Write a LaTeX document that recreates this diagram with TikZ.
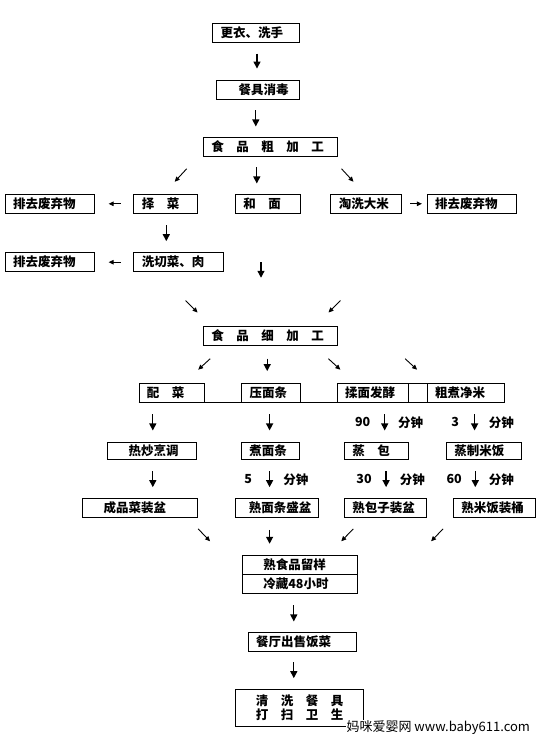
\documentclass[tikz,border=0pt]{standalone}
\usepackage{fontspec}
\newfontfamily\hei{Noto Sans CJK SC}
\usetikzlibrary{arrows.meta}

\tikzset{
  box/.style={draw, line width=0.9pt, inner xsep=8pt, inner ysep=0pt,
    minimum height=19pt, align=left, font=\hei\bfseries\fontsize{12.5}{14}\selectfont},
  lbl/.style={inner sep=0pt, font=\hei\bfseries\fontsize{12.5}{14}\selectfont},
  varr/.style={line width=1.3pt, -{Triangle[length=7pt,width=7pt]}},
  darr/.style={line width=0.9pt, -{Triangle[length=5pt,width=4.5pt]}},
  harr/.style={line width=0.9pt, -{Triangle[length=5pt,width=4.5pt]}},
  wm/.style={fill=white, inner sep=1pt, font=\hei\fontsize{13}{15}\selectfont}
}

\begin{document}
\begin{tikzpicture}[x=1pt,y=-1pt]
\useasboundingbox (0,0) rectangle (542,745);

% coarse processing
\node[box, text width=70.6pt] (gy) at (256,33) {更衣、洗手};
\node[box, text width=67pt, minimum height=18.6pt] (cj) at (258.2,90) {\hspace*{14pt}餐具消毒};
\node[box, text width=117.7pt] (cu) at (270.2,146.8) {食\quad 品\quad 粗\quad 加\quad 工};
\node[box, text width=73.2pt] (fq1) at (49.8,203.8) {排去废弃物};
\node[box, text width=47.2pt] (zc) at (165.4,203.8) {择\quad 菜};
\node[box, text width=49.3pt] (hm) at (268,203.8) {和\quad 面};
\node[box, text width=54.5pt] (tx) at (366,203.8) {淘洗大米};
\node[box, text width=73.2pt] (fq2) at (471.8,203.8) {排去废弃物};
\node[box, text width=73.2pt] (fq3) at (49.8,262.2) {排去废弃物};
\node[box, text width=73.2pt] (xq) at (178.4,262.2) {洗切菜、肉};

% fine processing
\node[box, text width=117.7pt, minimum height=19.7pt] (xi) at (270.2,335.8) {食\quad 品\quad 细\quad 加\quad 工};
\node[box, text width=49.3pt] (pc) at (171.6,392.8) {配\quad 菜};
\node[box, text width=43.1pt] (ym) at (271.2,392.8) {压面条};
\node[box, text width=55.6pt] (rm) at (372.8,392.8) {揉面发酵};
\node[box, text width=2.6pt] (kb) at (417.9,392.8) {};
\node[box, text width=60.8pt] (zm) at (465.6,392.8) {粗煮净米};
\draw[line width=0.9pt] (pc.south west) -- (zm.south east);

\node[box, text width=72.8pt, minimum height=17pt] (rc) at (151.9,450.8) {\hspace*{13pt}热炒烹调};
\node[box, text width=42pt, minimum height=17pt] (zt) at (270.3,450.8) {煮面条};
\node[box, text width=47.9pt, minimum height=17pt] (zb) at (376.3,450.8) {蒸\quad 包};
\node[box, text width=59pt, minimum height=17pt] (zf) at (483.8,450.8) {蒸制米饭};

\node[box, text width=99.1pt] (cp) at (139.8,507.8) {\hspace*{13.4pt}成品菜装盆};
\node[box, text width=67pt] (sm) at (276.9,507.8) {\hspace*{5.5pt}熟面条盛盆};
\node[box, text width=65.9pt] (sb) at (385.2,507.8) {熟包子装盆};
\node[box, text width=66.3pt] (sf) at (494.6,507.8) {熟米饭装桶};

% cooked food
\node[box, text width=98.7pt, minimum height=18.6pt] (ly1) at (300,565) {\hspace*{12.7pt}熟食品留样};
\node[box, text width=98.7pt] (ly2) at (300,583.8) {\hspace*{12.7pt}冷藏48小时};
\node[box, text width=92.2pt, minimum height=19.4pt] (cs) at (302.3,642) {餐厅出售饭菜};
\node[box, text width=111.9pt, minimum height=37.7pt] (qx) at (299.3,707.8)
  {\hspace*{12.6pt}清\quad 洗\quad 餐\quad 具\\ \hspace*{12.6pt}打\quad 扫\quad 卫\quad 生};

% arrows
\draw[varr] ([shift={(1,10.6)}]gy.south) -- ++(0,15);
\draw[varr] ([shift={(-2.4,10.7)}]cj.south) -- ++(0,16);
\draw[varr] ([shift={(-13.4,10.7)}]cu.south) -- ++(0,16);
\draw[darr] ([shift={(-83.5,12)}]cu.south) -- ++(-12,13);
\draw[darr] ([shift={(71.3,12)}]cu.south) -- ++(12,13);
\draw[harr] ([shift={(-12.8,0)}]zc.west) -- ([shift={(13.8,0)}]fq1.east);
\draw[harr] ([shift={(8.3,0)}]tx.east) -- ([shift={(-4.8,0)}]fq2.west);
\draw[varr] ([shift={(0.9,11.7)}]zc.south) -- ++(0,15.7);
\draw[harr] ([shift={(-12.8,0)}]xq.west) -- ([shift={(13.8,0)}]fq3.east);
\draw[varr] ([shift={(-7,48.4)}]hm.south) -- ++(0,15.6);
\draw[darr] ([shift={(-84.6,-25)}]xi.north) -- ++(12,12);
\draw[darr] ([shift={(70.3,-25)}]xi.north) -- ++(-12,12);

\draw[darr] ([shift={(-60,12.6)}]xi.south) -- ++(-12,11);
\draw[varr] ([shift={(-3,12.6)}]xi.south) -- ++(0,12.4);
\draw[darr] ([shift={(58.2,12.6)}]xi.south) -- ++(12,11);
\draw[darr] ([shift={(134.9,12.6)}]xi.south) -- ++(12,11);

\draw[varr] ([shift={(-18.8,11.7)}]pc.south) -- ++(0,16);
\draw[varr] ([shift={(-1.6,11.7)}]ym.south) -- ++(0,16);
\draw[varr] ([shift={(11.9,11.7)}]rm.south) -- ++(0,16)
  node[lbl, midway, left=13.8pt] (t90) {90} node[lbl, midway, right=12.8pt] (f90) {分钟};
\draw[varr] ([shift={(9,11.7)}]zm.south) -- ++(0,16)
  node[lbl, midway, left=14.9pt] (t3) {3} node[lbl, midway, right=13.5pt] (f3) {分钟};

\draw[varr] ([shift={(0.9,11.7)}]rc.south) -- ++(0,15.7);
\draw[varr] ([shift={(-0.7,11.7)}]zt.south) -- ++(0,15.7)
  node[lbl, midway, left=16.9pt] (t5) {5} node[lbl, midway, right=13.2pt] (f5) {分钟};
\draw[varr] ([shift={(9.8,11.7)}]zb.south) -- ++(0,15.7)
  node[lbl, midway, left=13.8pt] (t30) {30} node[lbl, midway, right=13.1pt] (f30) {分钟};
\draw[varr] ([shift={(-8.5,11.7)}]zf.south) -- ++(0,15.7)
  node[lbl, midway, left=12.8pt] (t60) {60} node[lbl, midway, right=12.8pt] (f60) {分钟};

\draw[darr] ([shift={(-101.9,-26.4)}]ly1.north) -- ++(12,12.4);
\draw[varr] ([shift={(-7.3,12)}]sm.south) -- ++(0,14);
\draw[darr] ([shift={(53.3,-26.4)}]ly1.north) -- ++(-12,12.4);
\draw[darr] ([shift={(143.1,-26.4)}]ly1.north) -- ++(-12,12.4);
\draw[varr] ([shift={(-6.2,11.7)}]ly2.south) -- ++(0,16);
\draw[varr] ([shift={(-8.5,10)}]cs.south) -- ++(0,16);

\node[wm] (wmk) at (438.3,728) {妈咪爱婴网 www.baby611.com};
\end{tikzpicture}
\end{document}
